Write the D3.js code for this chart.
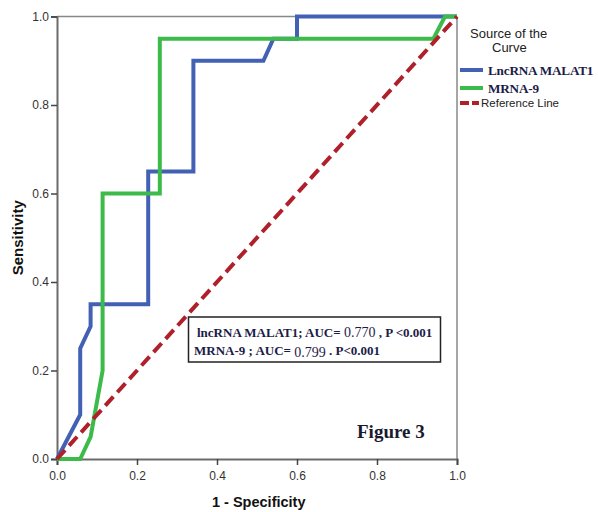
<!DOCTYPE html>
<html>
<head>
<meta charset="utf-8">
<script src="https://cdn.jsdelivr.net/npm/d3@7"></script>
<style>
  body { margin: 0; background: #fff; }
  svg { display: block; }
</style>
</head>
<body>
<div id="chart"></div>
<script>
// ROC points [1 - specificity, sensitivity]
const malatPoints = [[0, 0], [0.058, 0.10], [0.058, 0.25], [0.084, 0.30], [0.084, 0.35],
  [0.228, 0.35], [0.228, 0.65], [0.341, 0.65], [0.341, 0.90], [0.516, 0.90],
  [0.541, 0.95], [0.60, 0.95], [0.60, 1.0], [1, 1]];
const mrnaPoints = [[0, 0], [0.058, 0], [0.084, 0.05], [0.114, 0.20], [0.114, 0.60],
  [0.257, 0.60], [0.257, 0.95], [0.941, 0.95], [0.97, 1.0], [1, 1]];
const refPoints = [[0, 0], [1, 1]];
const ticks = [0, 0.2, 0.4, 0.6, 0.8, 1.0];

const width = 598, height = 512;
const svg = d3.select("#chart").append("svg")
  .attr("width", width).attr("height", height);

const x = d3.scaleLinear().domain([0, 1]).range([57, 457]);
const y = d3.scaleLinear().domain([0, 1]).range([459, 16.5]);

const axisColor = "#6b6b6b";
const sans = "Liberation Sans, Arial, sans-serif";
const serif = "Liberation Serif, Times New Roman, serif";

// frame top / right
svg.append("line").attr("x1", x(0)).attr("x2", x(1)).attr("y1", y(1)).attr("y2", y(1))
  .attr("stroke", "#888").attr("stroke-width", 1.5);
svg.append("line").attr("x1", x(1)).attr("x2", x(1)).attr("y1", y(1)).attr("y2", y(0))
  .attr("stroke", "#888").attr("stroke-width", 1.5);

const xAxis = svg.append("g").attr("transform", `translate(0,${y(0)})`)
  .call(d3.axisBottom(x).tickValues(ticks).tickFormat(d3.format(".1f")).tickSize(6).tickPadding(6));
const yAxis = svg.append("g").attr("transform", `translate(${x(0)},0)`)
  .call(d3.axisLeft(y).tickValues(ticks).tickFormat(d3.format(".1f")).tickSize(6).tickPadding(2));
[xAxis, yAxis].forEach(g => {
  g.select(".domain").attr("stroke", axisColor).attr("stroke-width", 2);
  g.selectAll(".tick line").attr("stroke", "#444").attr("stroke-width", 1.5);
  g.selectAll(".tick text").attr("fill", "#333").attr("font-family", sans).attr("font-size", 12);
});

const line = d3.line().x(d => x(d[0])).y(d => y(d[1]));

svg.append("path").attr("d", line(malatPoints)).attr("fill", "none")
  .attr("stroke", "#4261b5").attr("stroke-width", 4).attr("stroke-linejoin", "miter");
svg.append("path").attr("d", line(mrnaPoints)).attr("fill", "none")
  .attr("stroke", "#3cba4a").attr("stroke-width", 4).attr("stroke-linejoin", "miter");
svg.append("path").attr("d", line(refPoints)).attr("fill", "none")
  .attr("stroke", "#b0202a").attr("stroke-width", 4).attr("stroke-dasharray", "12,6");

// axis titles
svg.append("text").attr("transform", `translate(23,${(y(0) + y(1)) / 2}) rotate(-90)`)
  .attr("text-anchor", "middle").attr("font-family", sans)
  .attr("font-weight", "bold").attr("font-size", 15).attr("fill", "#111").text("Sensitivity");
svg.append("text").attr("x", 212).attr("y", 507).attr("font-family", sans)
  .attr("font-weight", "bold").attr("font-size", 14.5).attr("fill", "#111").text("1 - Specificity");

// legend
svg.append("text").attr("x", 470).attr("y", 38).attr("font-family", sans).attr("font-size", 13)
  .attr("fill", "#222").text("Source of the");
svg.append("text").attr("x", 492).attr("y", 52).attr("font-family", sans).attr("font-size", 13)
  .attr("fill", "#222").text("Curve");
const legend = [
  { name: "LncRNA MALAT1", color: "#4261b5", dash: null, y: 70 },
  { name: "MRNA-9", color: "#3cba4a", dash: null, y: 88 },
  { name: "Reference Line", color: "#b0202a", dash: "9,3", y: 103 }
];
legend.forEach(l => {
  svg.append("line").attr("x1", 460).attr("x2", l.dash ? 479 : 483).attr("y1", l.y).attr("y2", l.y)
    .attr("stroke", l.color).attr("stroke-width", 4).attr("stroke-dasharray", l.dash);
  const t = svg.append("text").attr("y", l.y + 5).attr("fill", l.dash ? "#222" : "#1c1c48");
  if (l.dash) t.attr("x", 481).attr("font-family", sans).attr("font-size", 11.5).attr("y", l.y + 4);
  else t.attr("x", 488).attr("font-family", serif).attr("font-weight", "bold").attr("font-size", 13.2)
    .attr("letter-spacing", -0.2);
  t.text(l.name);
});

// annotation box
svg.append("rect").attr("x", 188.5).attr("y", 317).attr("width", 252).attr("height", 45)
  .attr("fill", "#fff").attr("stroke", "#222").attr("stroke-width", 1.5);
const t1 = svg.append("text").attr("x", 197).attr("y", 337).attr("font-family", serif)
  .attr("font-size", 13).attr("fill", "#1c1c48");
t1.append("tspan").attr("font-weight", "bold").text("lncRNA MALAT1; AUC= ");
t1.append("tspan").attr("font-size", 14).text("0.770");
t1.append("tspan").attr("font-weight", "bold").text(" , P <0.001");
const t2 = svg.append("text").attr("x", 194).attr("y", 355).attr("font-family", serif)
  .attr("font-size", 13).attr("fill", "#1c1c48");
t2.append("tspan").attr("font-weight", "bold").text("MRNA-9 ; AUC= ");
t2.append("tspan").attr("font-size", 14).attr("dy", 2).text("0.799");
t2.append("tspan").attr("font-weight", "bold").attr("dy", -2).text("   . P<0.001");

svg.append("text").attr("x", 357).attr("y", 438).attr("font-family", serif)
  .attr("font-weight", "bold").attr("font-size", 19).attr("fill", "#1a1a2e").text("Figure 3");
</script>
</body>
</html>
